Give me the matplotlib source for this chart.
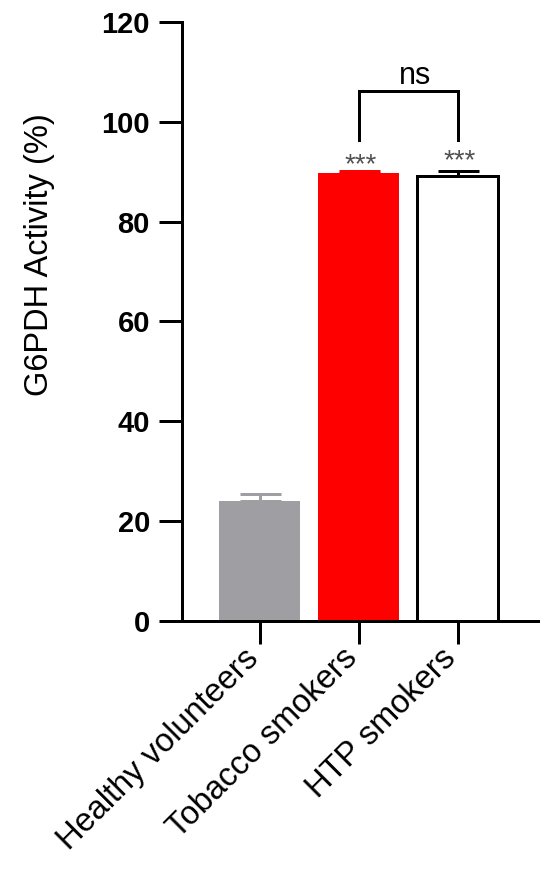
import matplotlib
matplotlib.use("Agg")
import matplotlib.pyplot as plt
import matplotlib.transforms as mtransforms

categories = ["Healthy volunteers", "Tobacco smokers", "HTP smokers"]
means = [23.9, 89.7, 89.1]
errors = [1.5, 0.4, 1.1]
stars = ["", "***", "***"]
star_y = [0, 91.3, 92.1]
yticks = [0, 20, 40, 60, 80, 100, 120]
ylabel = "G6PDH Activity (%)"
bracket_pair = (1, 2)
bracket_text = "ns"
bracket_low, bracket_high = 96.4, 106.2

face_colors = ["#9e9ea3", "#ff0000", "white"]
edge_colors = ["#9e9ea3", "#ff0000", "black"]
err_colors = ["#9e9ea3", "#ff0000", "black"]

plt.rcParams["font.family"] = ["Liberation Sans", "DejaVu Sans"]

PX = 72 / 100.0  # points per pixel at dpi 100
LW = 3 * PX

fig = plt.figure(figsize=(5.5, 8.72), dpi=100)
ax = fig.add_axes([182/550, 1-620.7/872, (538-182)/550, (620.7-22)/872])

x = list(range(len(categories)))
for i in x:
    lw = LW if face_colors[i] == "white" else 0
    ax.bar(i, means[i], width=0.81, color=face_colors[i], edgecolor=edge_colors[i],
           linewidth=lw, zorder=2)
    ax.errorbar(i, means[i], yerr=[[0], [errors[i]]], fmt="none", ecolor=err_colors[i],
                elinewidth=LW, capsize=20.5 * PX, capthick=LW, zorder=3)
    if stars[i]:
        ax.text(i + 0.02, star_y[i], stars[i], ha="center", va="center",
                fontsize=20, color="#505050")

a, b = bracket_pair
ax.plot([a, a, b, b], [bracket_low, bracket_high, bracket_high, bracket_low],
        color="black", lw=LW, solid_joinstyle="miter", clip_on=False)
ax.text((a + b) / 2 + 0.07, 107.5, bracket_text, ha="center", va="baseline",
        fontsize=22)

ax.set_xlim(-0.783, 2.813)
ax.set_ylim(0, 120)
ax.set_yticks(yticks)
ax.set_yticklabels([str(t) for t in yticks], fontsize=21, fontweight="bold")
ax.set_xticks(x)
ax.set_xticklabels(categories, rotation=45, ha="right", va="baseline",
                   rotation_mode="anchor", fontsize=23.5)
offset = mtransforms.ScaledTranslation(3 / 100, 0, fig.dpi_scale_trans)
for lab in ax.get_xticklabels():
    lab.set_transform(lab.get_transform() + offset)
ax.set_ylabel(ylabel, fontsize=23.5)
ax.yaxis.set_label_coords(-0.357, 0.611)

for s in ["top", "right"]:
    ax.spines[s].set_visible(False)
for s in ["left", "bottom"]:
    ax.spines[s].set_linewidth(LW)
ax.tick_params(axis="both", width=LW, length=23 * PX)
ax.tick_params(axis="y", pad=9 * PX)
ax.tick_params(axis="x", pad=16 * PX)

fig.savefig("out.png", dpi=100)
